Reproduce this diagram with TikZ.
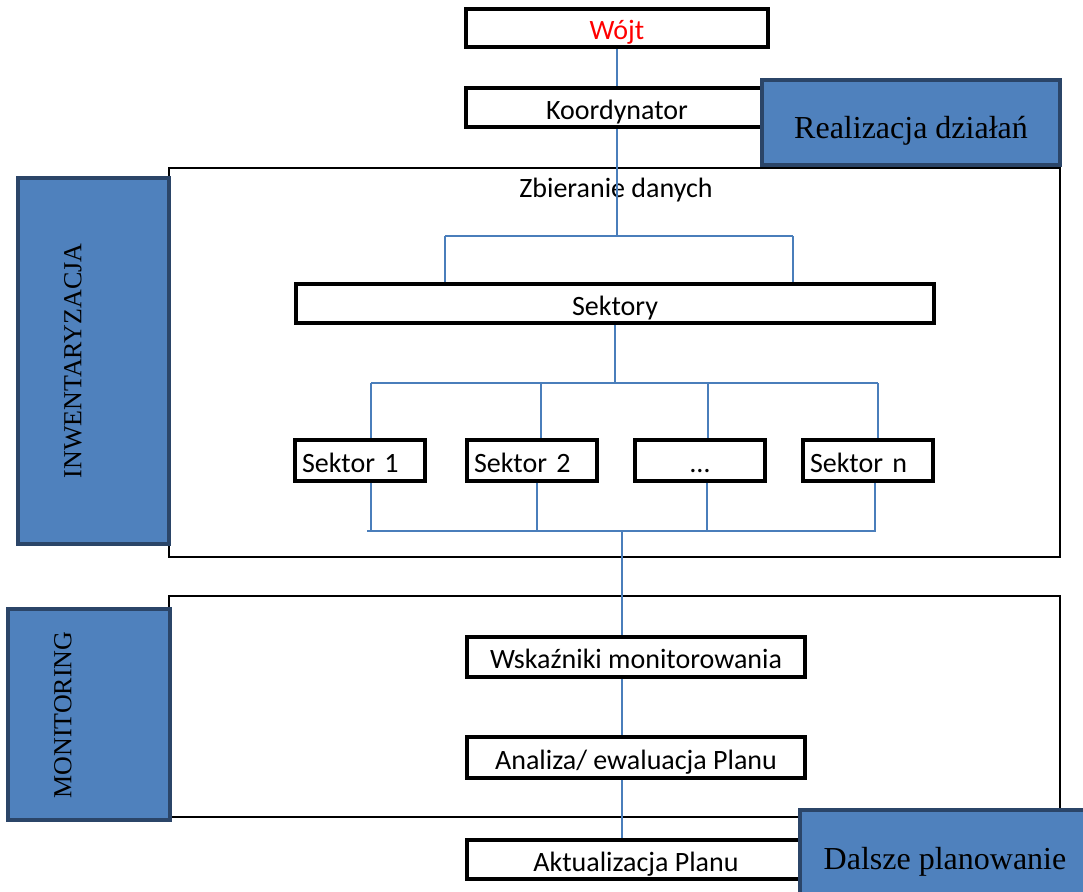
\documentclass[tikz,border=0pt]{standalone}
\usepackage{fontspec}
\setmainfont{Liberation Serif}
\newfontfamily\calfont{Carlito}
\definecolor{fillblue}{HTML}{4F81BD}
\definecolor{navyline}{HTML}{2B4568}
\definecolor{lineblue}{HTML}{4A7EBB}
\begin{document}
\begin{tikzpicture}[x=1pt,y=-1pt,
  wbox/.style={draw=black, line width=3.8pt, fill=white, inner sep=0pt,
    text height=23.4pt, text depth=0pt,
    font=\calfont\fontsize{28}{32}\selectfont},
  bbox/.style={draw=navyline, line width=4.2pt, fill=fillblue, inner sep=0pt,
    text height=32pt, text depth=0pt,
    font=\fontsize{32}{38}\selectfont},
  frame/.style={draw=black, line width=1.8pt},
  conn/.style={draw=lineblue, line width=1.2pt},
  vtext/.style={rotate=90, inner sep=0pt, font=\fontsize{26}{30}\selectfont},
  plain/.style={inner sep=0pt, text height=23.4pt, text depth=0pt,
    font=\calfont\fontsize{28}{32}\selectfont}]
\useasboundingbox (0,0) rectangle (1083,891);

% frames
\draw[frame] (169,168) rectangle (1060,557);
\draw[frame] (169,596) rectangle (1060,817);

% top boxes
\node[wbox, minimum width=302pt, minimum height=38pt] (wojt) at (617,28) {\textcolor{red}{Wójt}};
\node[wbox, minimum width=302pt, minimum height=39pt] (koord) at (617,107.5) {Koordynator};
\node[bbox, minimum width=298pt, minimum height=85pt] (real) at (911,122.5) {Realizacja działań};

% side boxes
\node[bbox, minimum width=151pt, minimum height=366pt] (inw) at (93.5,361) {};
\node[vtext] (inwt) at (73,361) {INWENTARYZACJA};
\node[bbox, minimum width=162pt, minimum height=211pt] (mon) at (89,714.5) {};
\node[vtext] (mont) at (63,715) {MONITORING};

\node[plain] (zbier) at (616,186) {Zbieranie danych};

\node[wbox, minimum width=638pt, minimum height=39pt] (sekt) at (615,303.5) {Sektory};

% sectors
\node[wbox, minimum width=130pt, minimum height=41pt, text width=116pt, align=left] (s1) at (360,460.5) {Sektor 1};
\node[wbox, minimum width=130pt, minimum height=41pt, text width=116pt, align=left] (s2) at (532,460.5) {Sektor 2};
\node[wbox, minimum width=130pt, minimum height=41pt] (s3) at (700,460.5) {…};
\node[wbox, minimum width=130pt, minimum height=41pt, text width=116pt, align=left] (s4) at (868,460.5) {Sektor n};

% monitoring boxes
\node[wbox, minimum width=338pt, minimum height=40pt] (wsk) at (636,657) {Wskaźniki monitorowania};
\node[wbox, minimum width=338pt, minimum height=41pt] (anal) at (636,757.5) {Analiza/ ewaluacja Planu};
\node[wbox, minimum width=338pt, minimum height=39pt] (aktu) at (636,859.5) {Aktualizacja Planu};
\node[bbox, minimum width=290pt, minimum height=95pt, text height=24pt] (dals) at (945,857.5) {Dalsze planowanie};

% connectors
\coordinate (top) at (617,236);
\coordinate (tl) at (445,236);
\coordinate (tr) at (793,236);
\draw[conn] (wojt.south) -- (koord.north);
\draw[conn] (koord.south) -- (top);
\draw[conn] (tl) -- (tr);
\draw[conn] (tl) -- (tl |- sekt.north);
\draw[conn] (tr) -- (tr |- sekt.north);

\coordinate (m) at (615,383);
\coordinate (u1) at (371,383);
\coordinate (u2) at (541,383);
\coordinate (u3) at (708,383);
\coordinate (u4) at (878,383);
\draw[conn] (sekt.south) -- (m);
\draw[conn] (u1) -- (u4);
\draw[conn] (u1) -- (u1 |- s1.north);
\draw[conn] (u2) -- (u2 |- s2.north);
\draw[conn] (u3) -- (u3 |- s3.north);
\draw[conn] (u4) -- (u4 |- s4.north);

\coordinate (d1) at (371,531);
\coordinate (d2) at (537,531);
\coordinate (d3) at (707,531);
\coordinate (d4) at (875,531);
\coordinate (dl) at (367,531);
\coordinate (dr) at (876,531);
\coordinate (dm) at (622,531);
\draw[conn] (d1 |- s1.south) -- (d1);
\draw[conn] (d2 |- s2.south) -- (d2);
\draw[conn] (d3 |- s3.south) -- (d3);
\draw[conn] (d4 |- s4.south) -- (d4);
\draw[conn] (dl) -- (dr);
\draw[conn] (dm) -- (dm |- wsk.north);
\draw[conn] (dm |- wsk.south) -- (dm |- anal.north);
\draw[conn] (dm |- anal.south) -- (dm |- aktu.north);
\end{tikzpicture}
\end{document}
